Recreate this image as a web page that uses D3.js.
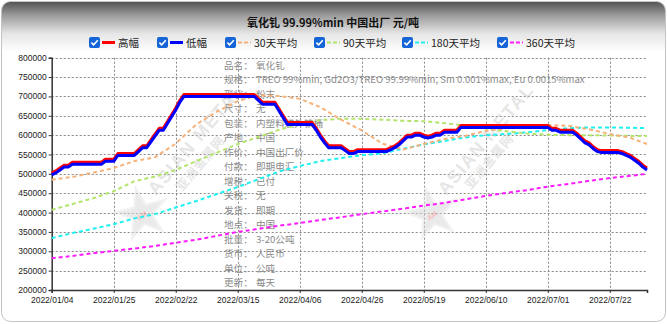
<!DOCTYPE html>
<html>
<head>
<meta charset="utf-8">
<script src="https://cdn.jsdelivr.net/npm/d3@7"></script>
<style>
  html, body { margin: 0; padding: 0; background: #fff; }
  svg { display: block; font-family: "Noto Sans CJK SC", "Liberation Sans", Arial, sans-serif; }
</style>
</head>
<body>
<svg id="chart" width="667" height="324"></svg>
<script>
// ---- calendar of trading days ----
const firstDay = "2022-01-04";
const lastDay = "2022-08-04";
const holidays = ["2022-01-31", "2022-02-01", "2022-02-02", "2022-02-03", "2022-02-04",
                  "2022-04-04", "2022-04-05", "2022-05-02", "2022-05-03", "2022-05-04", "2022-06-03"];
const extraWorkdays = ["2022-04-02", "2022-04-24", "2022-05-07"];

// ---- axis ticks ----
const xTickLabels = ["2022/01/04", "2022/01/25", "2022/02/22", "2022/03/15", "2022/04/06",
                     "2022/04/26", "2022/05/19", "2022/06/10", "2022/07/01", "2022/07/22"];
const yTicks = [200000, 250000, 300000, 350000, 400000, 450000, 500000, 550000, 600000, 650000, 700000, 750000, 800000];

// ---- daily prices (元/吨) ----
const highPrice = [
  502500, 507500, 515000, 522500, 522500, 530000, 530000, 530000, 530000, 530000,
  530000, 530000, 530000, 537500, 537500, 537500, 552500, 552500, 552500, 552500,
  552500, 562500, 572500, 572500, 587500, 602500, 617500, 617500, 635000, 652500,
  670000, 690000, 705000, 705000, 705000, 705000, 705000, 705000, 705000, 705000,
  705000, 705000, 705000, 705000, 705000, 705000, 705000, 705000, 705000, 705000,
  695000, 685000, 685000, 685000, 685000, 667500, 650000, 632500, 632500, 632500,
  632500, 632500, 632500, 632500, 617500, 600000, 585000, 572500, 572500, 572500,
  572500, 565000, 557500, 557500, 562500, 562500, 562500, 562500, 562500, 562500,
  562500, 562500, 567500, 572500, 580000, 590000, 600000, 600000, 605000, 605000,
  600000, 597500, 600000, 605000, 605000, 612500, 612500, 612500, 612500, 625000,
  625000, 625000, 625000, 625000, 625000, 625000, 625000, 625000, 625000, 625000,
  625000, 625000, 625000, 625000, 625000, 625000, 625000, 625000, 625000, 625000,
  625000, 617500, 617500, 612500, 612500, 612500, 612500, 605000, 595000, 585000,
  580000, 570000, 562500, 560000, 560000, 560000, 560000, 560000, 557500, 552500,
  547500, 540000, 532500, 522500, 515000
];
const lowPrice = [
  497500, 502500, 510000, 517500, 517500, 525000, 525000, 525000, 525000, 525000,
  525000, 525000, 525000, 532500, 532500, 532500, 547500, 547500, 547500, 547500,
  547500, 557500, 567500, 567500, 582500, 597500, 612500, 612500, 630000, 647500,
  665000, 685000, 700000, 700000, 700000, 700000, 700000, 700000, 700000, 700000,
  700000, 700000, 700000, 700000, 700000, 700000, 700000, 700000, 700000, 700000,
  690000, 680000, 680000, 680000, 680000, 662500, 645000, 627500, 627500, 627500,
  627500, 627500, 627500, 627500, 612500, 595000, 580000, 567500, 567500, 567500,
  567500, 560000, 552500, 552500, 557500, 557500, 557500, 557500, 557500, 557500,
  557500, 557500, 562500, 567500, 575000, 585000, 595000, 595000, 600000, 600000,
  595000, 592500, 595000, 600000, 600000, 607500, 607500, 607500, 607500, 620000,
  620000, 620000, 620000, 620000, 620000, 620000, 620000, 620000, 620000, 620000,
  620000, 620000, 620000, 620000, 620000, 620000, 620000, 620000, 620000, 620000,
  620000, 612500, 612500, 607500, 607500, 607500, 607500, 600000, 590000, 580000,
  575000, 565000, 557500, 555000, 555000, 555000, 555000, 555000, 552500, 547500,
  542500, 535000, 527500, 517500, 510000
];

// ---- moving averages, weekly readings ----
const maDates = ["2022/01/04", "2022/01/11", "2022/01/18", "2022/01/25", "2022/02/08", "2022/02/15",
                 "2022/02/22", "2022/03/01", "2022/03/08", "2022/03/15", "2022/03/22", "2022/03/29",
                 "2022/04/06", "2022/04/13", "2022/04/20", "2022/04/26", "2022/05/06", "2022/05/12",
                 "2022/05/19", "2022/05/26", "2022/06/02", "2022/06/10", "2022/06/17", "2022/06/24",
                 "2022/07/01", "2022/07/08", "2022/07/15", "2022/07/22", "2022/07/29", "2022/08/04"];
const ma30 = [485000, 492000, 503000, 515000, 533000, 543000, 578000, 628000, 661000, 688000,
              703000, 701000, 694000, 672000, 640000, 612000, 578000, 563000, 577000, 590000,
              598000, 611000, 618000, 623000, 626000, 624000, 615000, 603000, 593000, 577000];
const ma90 = [407000, 422000, 437000, 455000, 481000, 493000, 510000, 533000, 555000, 577000,
              595000, 614000, 628000, 639000, 642000, 642000, 640000, 637000, 636000, 631000,
              625000, 617000, 610000, 604000, 601000, 600000, 600000, 599000, 598000, 598000];
const ma180 = [334000, 347000, 358000, 370000, 385000, 396000, 413000, 430000, 448000, 466000,
               486000, 506000, 520000, 533000, 541000, 548000, 553000, 565000, 576000, 585000,
               594000, 600000, 603000, 607000, 613000, 618000, 620000, 620000, 619000, 618000];
const ma360 = [282000, 288000, 295000, 301000, 307000, 314000, 322000, 330000, 340000, 350000,
               358000, 366000, 373000, 381000, 388000, 396000, 403000, 410000, 418000, 425000,
               434000, 443000, 451000, 458000, 467000, 474000, 482000, 489000, 495000, 500000];

// ---- product sheet ----
const infoLabels = ["品名：", "规格：", "形状：", "尺寸：", "包装：", "产地：", "作价：", "付款：",
                    "增税：", "关税：", "发货：", "地点：", "批量：", "货币：", "单位：", "更新："];
const infoValues = ["氧化钆", "TREO 99%min, Gd2O3/TREO 99.99%min, Sm 0.001%max, Eu 0.0015%max",
                    "粉末", "无", "内塑料袋外铁桶", "中国", "中国出厂价", "即期电汇",
                    "已付", "无", "即期", "中国", "3-20公吨", "人民币", "公吨", "每天"];

const titleText = "氧化钆 99.99%min 中国出厂 元/吨";

// build trading-day categories
function tradingDays(start, end, off, extra) {
  const out = [];
  const offSet = new Set(off), extraSet = new Set(extra);
  const d = new Date(start + "T00:00:00Z"), e = new Date(end + "T00:00:00Z");
  while (d <= e) {
    const iso = d.toISOString().slice(0, 10);
    const wd = d.getUTCDay();
    if ((wd !== 0 && wd !== 6 && !offSet.has(iso)) || extraSet.has(iso)) out.push(iso.replace(/-/g, "/"));
    d.setUTCDate(d.getUTCDate() + 1);
  }
  return out;
}
const dates = tradingDays(firstDay, lastDay, holidays, extraWorkdays);

const series = [
  { name: "高幅", color: "#ff0000", dash: null, width: 3, x: dates, y: highPrice },
  { name: "低幅", color: "#0000ff", dash: null, width: 3, x: dates, y: lowPrice },
  { name: "30天平均", color: "#f5b27a", dash: "4,3", width: 2, x: maDates, y: ma30 },
  { name: "90天平均", color: "#b3e46c", dash: "4,3", width: 2, x: maDates, y: ma90 },
  { name: "180天平均", color: "#1ff0f0", dash: "4,3", width: 2, x: maDates, y: ma180 },
  { name: "360天平均", color: "#ff1cff", dash: "4,3", width: 2, x: maDates, y: ma360 }
];

const W = 667, H = 324;
const plot = { left: 51.7, right: 647, top: 57.7, bottom: 290 };
const svg = d3.select("#chart");

// card background with shaded header
const defs = svg.append("defs");
const grad = defs.append("linearGradient").attr("id", "hdr")
  .attr("gradientUnits", "userSpaceOnUse").attr("x1", 0).attr("y1", 0).attr("x2", 0).attr("y2", 52);
grad.append("stop").attr("offset", 0).attr("stop-color", "#4a4a4a");
grad.append("stop").attr("offset", 0.3).attr("stop-color", "#9c9c9c");
grad.append("stop").attr("offset", 0.65).attr("stop-color", "#e6e6e6");
grad.append("stop").attr("offset", 1).attr("stop-color", "#ffffff");
svg.append("rect").attr("x", 1.5).attr("y", 1.5).attr("width", W - 3).attr("height", H - 4)
  .attr("rx", 9).attr("fill", "url(#hdr)").attr("stroke", "#c4c4c4");

const x = d3.scalePoint().domain(dates).range([plot.left, plot.right]);
const y = d3.scaleLinear().domain([200000, 800000]).range([plot.bottom, plot.top]);

// grid
const grid = svg.append("g").attr("stroke", "#8a8a8a").attr("stroke-dasharray", "2,2").attr("stroke-width", 1);
grid.selectAll("line.h").data(yTicks.slice(1)).join("line")
  .attr("x1", plot.left).attr("x2", plot.right)
  .attr("y1", d => Math.round(y(d)) + 0.5).attr("y2", d => Math.round(y(d)) + 0.5);
grid.selectAll("line.v").data(xTickLabels.slice(1)).join("line")
  .attr("x1", d => Math.round(x(d)) + 0.5).attr("x2", d => Math.round(x(d)) + 0.5)
  .attr("y1", plot.top).attr("y2", plot.bottom);

// watermarks
function watermark(cx, cy, tx, ty, tx2, ty2, ang) {
  const g = svg.append("g").attr("opacity", 0.5);
  g.append("path").attr("d", d3.symbol(d3.symbolStar, 800)())
    .attr("transform", `translate(${cx},${cy}) rotate(-14)`)
    .attr("fill", "#d6d6d6").attr("stroke", "#e6e6e6").attr("stroke-width", 2);
  g.append("text").attr("x", cx - 6).attr("y", cy + 4).attr("transform", `rotate(-35 ${cx} ${cy})`)
    .attr("font-size", 7).attr("font-weight", "bold").attr("fill", "#f08080").text("AM");
  g.append("text").attr("transform", `translate(${tx},${ty}) rotate(${ang})`)
    .attr("font-family", "Liberation Sans, Arial, sans-serif")
    .attr("font-size", 18).attr("font-weight", "bold").attr("letter-spacing", 1.5)
    .attr("fill", "#cfcfcf").text("ASIAN METAL");
  g.append("text").attr("transform", `translate(${tx2},${ty2}) rotate(${ang})`)
    .attr("font-size", 12.5).attr("font-weight", "bold").attr("letter-spacing", 1)
    .attr("fill", "#cfcfcf").text("亚洲金属网");
}
watermark(142, 214, 156, 196, 182, 192, -50);
watermark(432, 214, 446, 196, 471, 190, -50);

// product sheet text
const info = svg.append("g").attr("font-size", 9.6).attr("fill", "#8a8a8a");
info.selectAll("text.lab").data(infoLabels).join("text")
  .attr("x", 224).attr("y", (d, i) => 68.5 + i * 14.52).text(d => d);
info.selectAll("text.val").data(infoValues).join("text")
  .attr("x", 256).attr("y", (d, i) => 68.5 + i * 14.52).text(d => d);

// axes
const yAxis = d3.axisLeft(y).tickValues(yTicks).tickSize(3).tickPadding(2).tickFormat(d3.format("d"));
const gy = svg.append("g").attr("transform", `translate(${plot.left},0)`).call(yAxis);
const xAxis = d3.axisBottom(x).tickValues(xTickLabels).tickSize(3).tickPadding(4);
const gx = svg.append("g").attr("transform", `translate(0,${plot.bottom})`).call(xAxis);
[gx, gy].forEach(g => {
  g.select(".domain").attr("stroke", "#333").attr("stroke-width", 1.5);
  g.selectAll(".tick line").attr("stroke", "#333");
  g.selectAll("text").attr("font-family", "Liberation Sans, Arial, sans-serif")
    .attr("font-size", 8.5).attr("fill", "#222");
});
gy.selectAll("text").attr("dy", "0.3em");

// average lines first, price lines on top
const lineGen = d3.line();
series.slice(2).reverse().concat(series.slice(0, 2)).forEach(s => {
  const pts = s.y.map((v, i) => [x(s.x[i]), y(v)]);
  svg.append("path").attr("d", lineGen(pts)).attr("fill", "none")
    .attr("stroke", s.color).attr("stroke-width", s.width)
    .attr("stroke-dasharray", s.dash).attr("stroke-linejoin", "round");
});

// title
svg.append("text").attr("x", 333).attr("y", 26.5).attr("text-anchor", "middle")
  .attr("font-size", 11).attr("font-weight", "bold").attr("fill", "#111").text(titleText);

// legend with check boxes
const legendX = [89, 157, 225, 314, 402, 497];
const leg = svg.append("g");
series.forEach((s, i) => {
  const g = leg.append("g").attr("transform", `translate(${legendX[i]},37)`);
  g.append("rect").attr("width", 11).attr("height", 11).attr("rx", 2).attr("fill", "#1565d8");
  g.append("path").attr("d", "M2.4,5.6 L4.6,7.9 L8.8,3.2").attr("fill", "none")
    .attr("stroke", "#fff").attr("stroke-width", 1.6);
  g.append("line").attr("x1", 13).attr("x2", 26).attr("y1", 5.5).attr("y2", 5.5)
    .attr("stroke", s.color).attr("stroke-width", s.dash ? 2 : 3).attr("stroke-dasharray", s.dash ? "4,2" : null);
  g.append("text").attr("x", 29).attr("y", 10).attr("font-size", 10.5).attr("fill", "#222").text(s.name);
});
</script>
</body>
</html>
